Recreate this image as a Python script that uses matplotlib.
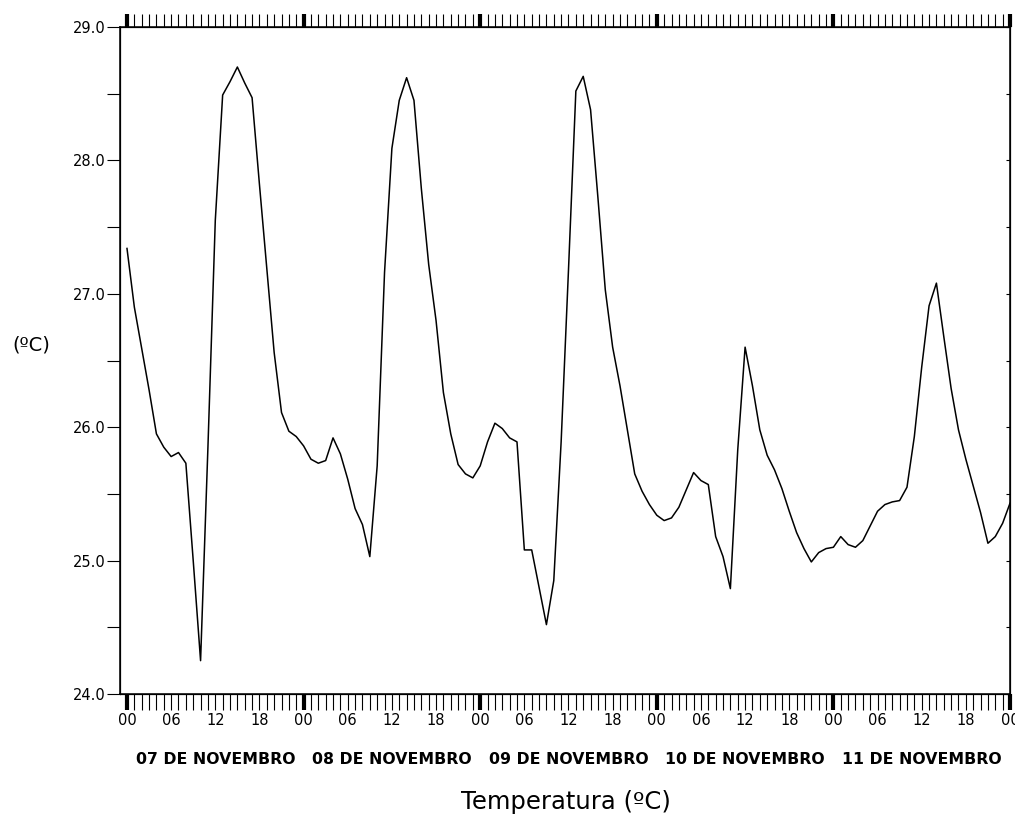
import numpy as np
import matplotlib.pyplot as plt
from matplotlib.ticker import MultipleLocator, FixedLocator, NullFormatter
from matplotlib import transforms

# hourly air temperature (ºC), 07/11 00h -> 12/11 00h
temp = [
    27.34, 26.90, 26.59, 26.28, 25.95, 25.85, 25.78, 25.81, 25.73, 25.00,
    24.25, 25.85, 27.55, 28.49, 28.59, 28.70, 28.58, 28.47, 27.82, 27.19,
    26.56, 26.11, 25.97, 25.93,
    25.86, 25.76, 25.73, 25.75, 25.92, 25.80, 25.61, 25.39, 25.27, 25.03,
    25.71, 27.16, 28.09, 28.45, 28.62, 28.45, 27.79, 27.22, 26.80, 26.26,
    25.95, 25.72, 25.65, 25.62,
    25.71, 25.89, 26.03, 25.99, 25.92, 25.89, 25.08, 25.08, 24.80, 24.52,
    24.85, 25.89, 27.18, 28.52, 28.63, 28.38, 27.72, 27.03, 26.60, 26.31,
    25.98, 25.65, 25.52, 25.42,
    25.34, 25.30, 25.32, 25.40, 25.53, 25.66, 25.60, 25.57, 25.18, 25.03,
    24.79, 25.83, 26.60, 26.31, 25.98, 25.79, 25.68, 25.54, 25.37, 25.21,
    25.09, 24.99, 25.06, 25.09,
    25.10, 25.18, 25.12, 25.10, 25.15, 25.26, 25.37, 25.42, 25.44, 25.45,
    25.55, 25.93, 26.45, 26.91, 27.08, 26.68, 26.29, 25.98, 25.76, 25.56,
    25.36, 25.13, 25.18, 25.28,
    25.43,
]
hours = np.arange(len(temp))

days = ["07 DE NOVEMBRO", "08 DE NOVEMBRO", "09 DE NOVEMBRO",
        "10 DE NOVEMBRO", "11 DE NOVEMBRO"]
hour_labels = ["00", "06", "12", "18"]

W, H = 1015, 814
fig = plt.figure(figsize=(W / 100, H / 100), dpi=100)
ax = fig.add_axes([120 / W, 1 - 694 / H, 890 / W, 667 / H])

ax.plot(hours, temp, color="black", linewidth=1.1)

ax.set_xlim(-0.95, 120)
ax.set_ylim(24.0, 29.0)

for spine in ax.spines.values():
    spine.set_linewidth(1.1)

# x axis: labels every 6 h, thin tick every hour, bold tick at 00h
xt = np.arange(0, 121, 6)
ax.xaxis.set_major_locator(FixedLocator(xt))
ax.set_xticklabels([hour_labels[(int(t) // 6) % 4] for t in xt])
ax.xaxis.set_minor_locator(MultipleLocator(1))
ax.tick_params(axis="x", which="both", direction="out", length=11.5,
               width=0.8, top=False, bottom=True, labelsize=10.5, pad=2)
for tick, loc in zip(ax.xaxis.get_major_ticks(), xt):
    if loc % 24 == 0:
        tick.tick1line.set_markeredgewidth(3)

axt = ax.twiny()
axt.set_xlim(ax.get_xlim())
axt.xaxis.set_major_locator(FixedLocator(xt))
axt.xaxis.set_major_formatter(NullFormatter())
axt.xaxis.set_minor_locator(MultipleLocator(1))
axt.tick_params(axis="x", which="both", direction="out", length=9.5,
                width=0.8, top=True, bottom=False, labeltop=False)
for tick, loc in zip(axt.xaxis.get_major_ticks(), xt):
    if loc % 24 == 0:
        tick.tick2line.set_markeredgewidth(3)

# y axis: labels each degree, ticks each half degree
ax.yaxis.set_major_locator(MultipleLocator(1.0))
ax.yaxis.set_minor_locator(MultipleLocator(0.5))
ax.yaxis.set_major_formatter("{x:.1f}")
ax.tick_params(axis="y", which="both", direction="out", length=9.5,
               width=0.8, left=True, right=False, labelsize=10.5, pad=1)

axr = ax.twinx()
axr.set_ylim(ax.get_ylim())
axr.yaxis.set_major_locator(MultipleLocator(0.5))
axr.yaxis.set_major_formatter(NullFormatter())
axr.tick_params(axis="y", direction="in", length=3, width=0.8)

# day labels under each day
trans = transforms.blended_transform_factory(ax.transData, fig.transFigure)
for i, d in enumerate(days):
    ax.text(12 + 24 * i, 1 - 760 / H, d, transform=trans, ha="center",
            va="center", fontsize=11.3, fontweight="bold")

fig.text(31 / W, 1 - 345 / H, "(ºC)", ha="center", va="center", fontsize=14)
fig.text(566 / W, 1 - 802 / H, "Temperatura (ºC)", ha="center", va="center",
         fontsize=17.5)

fig.savefig("out.png", dpi=100)
